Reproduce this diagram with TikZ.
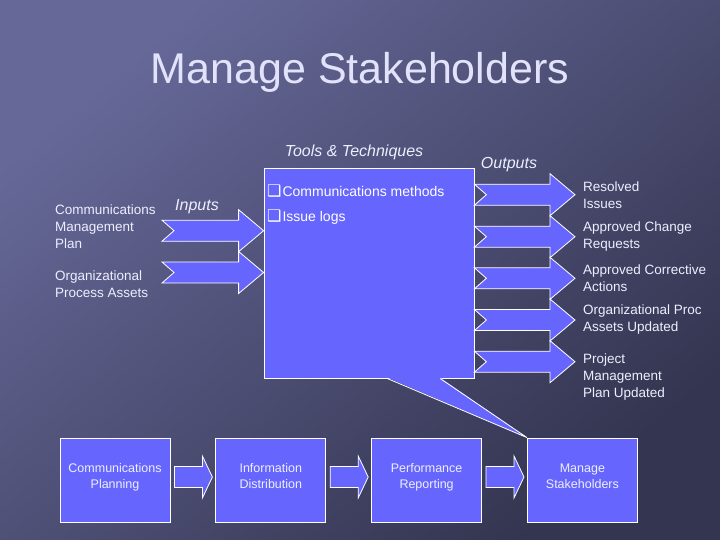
\documentclass[tikz,border=0pt]{standalone}
\usepackage{fontspec}
\setmainfont{Liberation Sans}
\newfontfamily\dingfont{DejaVu Sans}
\usetikzlibrary{positioning,calc}

\definecolor{boxblue}{RGB}{102,102,255}
\definecolor{bgtop}{RGB}{102,104,152}
\definecolor{bgbot}{RGB}{52,53,80}
\definecolor{txt}{RGB}{238,238,255}
\definecolor{titlecol}{RGB}{226,226,250}

\tikzset{
  procbox/.style={draw=white, fill=boxblue, rectangle,
    minimum width=110pt, minimum height=84pt, inner sep=0,
    align=center, text=txt, line width=0.8pt,
    font=\fontsize{12.5}{16}\selectfont},
  arrowbox/.style={draw=white, fill=boxblue, line width=0.8pt},
  lbl/.style={anchor=west, align=left, inner sep=0, text=txt,
    font=\fontsize{13.5}{17}\selectfont},
  hdr/.style={anchor=base, inner sep=0, text=txt,
    font=\fontsize{16}{18}\selectfont\itshape}
}

% block arrow: tail, tip, notch depth, shaft half, head half, head length
\newcommand{\notched}[6]{%
  \draw[arrowbox] let \p1=(#1), \p2=(#2) in
    (\x1,\y1+#4pt) -- (\x2-#6pt,\y1+#4pt) -- (\x2-#6pt,\y1+#5pt) -- (\x2,\y1)
    -- (\x2-#6pt,\y1-#5pt) -- (\x2-#6pt,\y1-#4pt) -- (\x1,\y1-#4pt)
    -- (\x1+#3pt,\y1) -- cycle;}

\begin{document}
\begin{tikzpicture}[x=1pt,y=-1pt]

% Background
\shade[top color=bgtop, bottom color=bgbot, shading angle=40] (0,0) rectangle (720,540);
\useasboundingbox (0,0) rectangle (720,540);

% Title
\node[anchor=base, text=titlecol, font=\fontsize{43}{50}\selectfont] (title) at (360,84) {Manage Stakeholders};

% Process chain
\node[procbox] (cp) at (115,480) {Communications\\Planning\\[-8pt]};
\node[procbox, right=45pt of cp] (id) {Information\\Distribution\\[-8pt]};
\node[procbox, right=45pt of id] (pr) {Performance\\Reporting\\[-8pt]};
\node[procbox, right=45pt of pr] (ms) {Manage\\Stakeholders\\[-8pt]};

% Tools & Techniques box
\node[draw=white, fill=boxblue, line width=0.8pt,
    rectangle,
    minimum width=210pt,
    minimum height=210pt] (tt) at (369,273) {};

% callout tail
\fill[boxblue] ([xshift=18pt,yshift=1pt]tt.south) -- (ms.north west) -- ([xshift=71pt,yshift=1pt]tt.south) -- cycle;
\draw[white, line width=0.8pt] ([xshift=18pt]tt.south) -- (ms.north west) -- ([xshift=71pt]tt.south);

\node[anchor=west, inner sep=0, text=white, font=\fontsize{14}{17}\selectfont] (meth) at (267,191)
  {{\dingfont\fontsize{16}{16}\selectfont ❑}\hspace{1pt}Communications methods};
\node[anchor=west, inner sep=0, text=white, font=\fontsize{14}{17}\selectfont] (logs) at (267,217)
  {{\dingfont\fontsize{16}{16}\selectfont ❑}\hspace{1pt}Issue logs};

% Headings
\node[hdr] (tools) at (354,157) {Tools \& Techniques};
\node[hdr] (outs) at (509,169) {Outputs};
\node[hdr] (ins) at (197,211) {Inputs};

% Inputs
\node[lbl] (cmp) at (55,227) {Communications\\Management\\Plan};
\node[lbl] (opa) at (55,284) {Organizational\\Process Assets};

\coordinate (in1) at (162,230.7);
\coordinate (in2) at (162,272.5);
\notched{in1}{tt.west |- in1}{12}{10.5}{21}{25}
\notched{in2}{tt.west |- in2}{12}{10.5}{21}{25}

% Outputs
\node[lbl] (out1) at (583,195) {Resolved\\Issues};
\node[lbl] (out2) at (583,236.5) {Approved Change\\Requests};
\node[lbl] (out3) at (583,278.5) {Approved Corrective\\Actions};
\node[lbl] (out4) at (583,320) {Organizational Proc\\Assets Updated};
\node[lbl] (out5) at (583,377) {Project\\Management\\Plan Updated};

\foreach \y [count=\i] in {194.7,236.7,278.3,320,361.7}
  \coordinate (o\i) at (575,\y);
\foreach \i in {1,...,5}
  {\notched{tt.east |- o\i}{o\i}{12}{10.5}{21}{25}}

% Arrows between processes
\foreach \a/\b in {cp/id,id/pr,pr/ms}
  {\notched{$(\a.east)+(4,-3)$}{$(\b.west)+(-3,-3)$}{0}{10.5}{21}{10}}

\end{tikzpicture}
\end{document}
